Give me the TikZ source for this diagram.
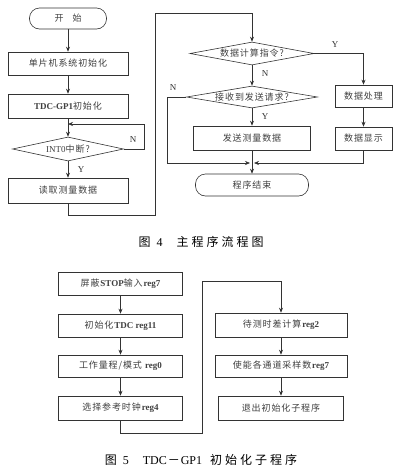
\documentclass[tikz,border=0pt]{standalone}
\usepackage{fontspec}
\setmainfont{Liberation Serif}
\newfontfamily\zh{Noto Sans CJK SC}[LetterSpace=10]
\newfontfamily\zhc{Noto Sans CJK SC}[LetterSpace=25]
\usetikzlibrary{arrows.meta,shapes.geometric}
\tikzset{
  ln/.style={line width=0.6pt, draw=black!80},
  arr/.style={ln, -{Stealth[length=5pt,width=4pt]}},
  box/.style={draw=black!80, line width=0.6pt, rectangle, inner sep=0pt,
    font=\fontsize{9}{10}\selectfont, text=black!75},
  term/.style={box, rounded corners=10pt},
  dec/.style={box, diamond, shape aspect=6},
  lbl/.style={font=\fontsize{9}{10}\selectfont, text=black!80, inner sep=0pt},
  capt/.style={font=\fontsize{12}{13}\selectfont, inner sep=0pt, text=black},
}
\begin{document}
\begin{tikzpicture}[x=1pt,y=-1pt]
\useasboundingbox[fill=white] (0,0) rectangle (400,466);
% ---------- Figure 4, left column
\node[term, minimum width=77pt, minimum height=21pt] (st) at (68,18.5) {\zh 开\hspace{9pt}始};
\node[box, minimum width=120pt, minimum height=23pt] (b1) at (68,63.5) {\zh 单片机系统初始化};
\node[box, minimum width=120pt, minimum height=24pt] (b2) at (68,106) {\textbf{TDC-GP1}{\zh 初始化}};
\node[dec, minimum width=111pt, minimum height=24pt] (d0) at (68,149) {INT0{\zh 中断?}};
\node[box, minimum width=120pt, minimum height=25pt] (b3) at (68,190.5) {\zh 读取测量数据};
\coordinate (j0) at (68,124);
\coordinate (c1) at (155,215);
\coordinate (c2) at (252,13);
\node[lbl] (ln0) at (133,140) {N};
\node[lbl] (ly0) at (81,170) {Y};
\draw[arr] (st) -- (b1);
\draw[arr] (b1) -- (b2);
\draw[arr] (b2) -- (d0);
\draw[arr] (d0.east) -- ++(20,0) |- (j0);
\draw[arr] (d0) -- (b3);
% ---------- Figure 4, right part
\node[dec, minimum width=124pt, minimum height=23pt] (d1) at (252,53.5) {\zh 数据计算指令?};
\node[dec, minimum width=131pt, minimum height=22pt] (d2) at (252,97) {\zh 接收到发送请求?};
\node[box, minimum width=57pt, minimum height=22pt] (bp) at (363.5,96) {\zh 数据处理};
\node[box, minimum width=57pt, minimum height=23pt] (bs) at (363.5,138.5) {\zh 数据显示};
\node[box, minimum width=117pt, minimum height=24pt] (bt) at (252,138) {\zh 发送测量数据};
\node[term, minimum width=113pt, minimum height=22pt] (en) at (252,185) {\zh 程序结束};
\coordinate (m) at (252,163);
\node[lbl] (ly1) at (335,45) {Y};
\node[lbl] (ln1) at (265,74) {N};
\node[lbl] (ln2) at (173,88) {N};
\node[lbl] (ly2) at (265,117) {Y};
\draw[arr] (b3.south) |- (c1) |- (c2) -- (d1.north);
\draw[arr] (d1.east) -| (bp.north);
\draw[arr] (bp) -- (bs);
\draw[arr] (d1) -- (d2);
\draw[arr] (d2) -- (bt);
\draw[arr, shorten >=2pt] (d2.west) -- ++(-19,0) |- (m);
\draw[arr, shorten >=2pt] (bs.south) |- (m);
\draw[arr] (bt) -- (en);
\node[capt] (cap4) at (201,242) {{\zhc 图}\hspace{6pt}4\hspace{14pt}{\zhc 主程序流程图}};
% ---------- Figure 5
\node[box, minimum width=124pt, minimum height=23pt] (s1) at (120.5,283.5) {{\zh 屏蔽}\textbf{STOP}{\zh 输入}\textbf{reg7}};
\node[box, minimum width=124pt, minimum height=23pt] (s2) at (120.5,325.5) {{\zh 初始化}\textbf{TDC reg11}};
\node[box, minimum width=124pt, minimum height=22pt] (s3) at (120.5,366) {{\zh 工作量程/模式} \textbf{reg0}};
\node[box, minimum width=124pt, minimum height=24pt] (s4) at (120.5,408) {{\zh 选择参考时钟}\textbf{reg4}};
\node[box, minimum width=132pt, minimum height=24pt] (r1) at (281,325) {{\zh 待测时差计算}\textbf{reg2}};
\node[box, minimum width=132pt, minimum height=22pt] (r2) at (281,366) {{\zh 使能各通道采样数}\textbf{reg7}};
\node[box, minimum width=125pt, minimum height=24pt] (r3) at (281,408) {\zh 退出初始化子程序};
\coordinate (c3) at (202,433);
\coordinate (c4) at (281,281);
\draw[arr] (s1) -- (s2);
\draw[arr] (s2) -- (s3);
\draw[arr] (s3) -- (s4);
\draw[arr] (s4.south) |- (c3) |- (c4) -- (r1.north);
\draw[arr] (r1) -- (r2);
\draw[arr] (r2) -- (r3);
\node[capt] (cap5) at (201,460) {{\zhc 图}\hspace{6pt}5\hspace{14pt}TDC\hspace{1pt}{\zh －}\hspace{1pt}GP1\hspace{8pt}{\zhc 初始化子程序}};
\end{tikzpicture}
\end{document}
